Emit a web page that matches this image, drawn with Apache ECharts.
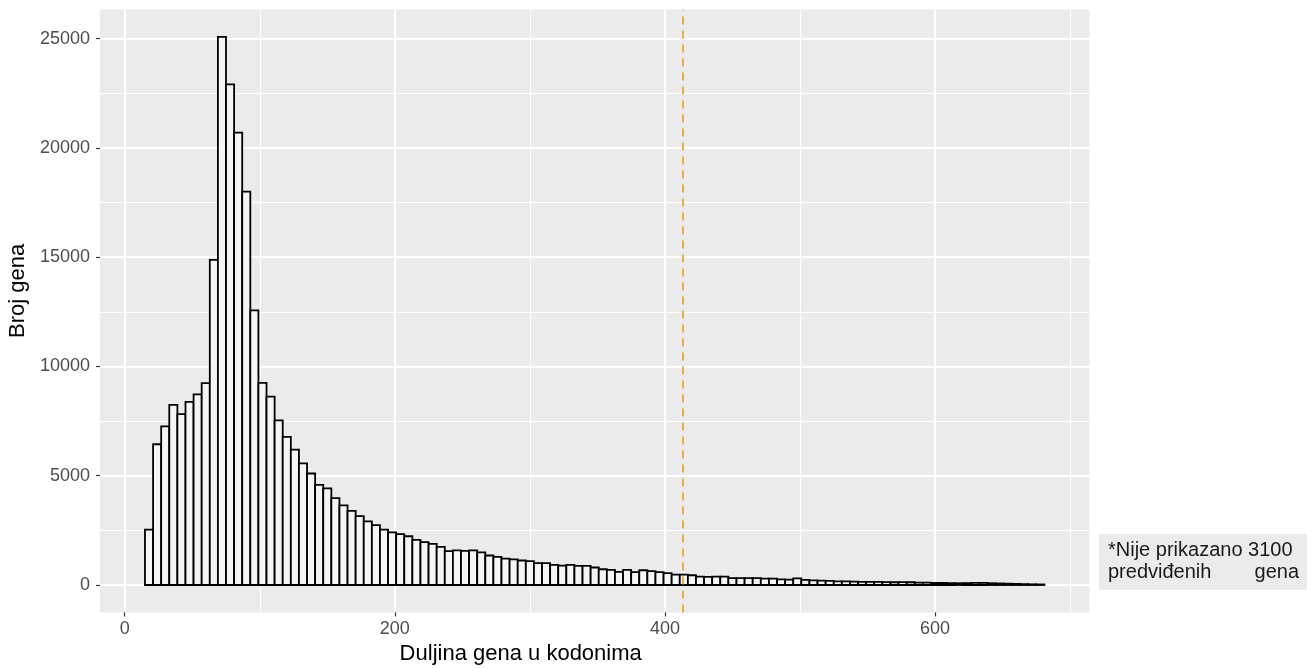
<!DOCTYPE html>
<html><head><meta charset="utf-8">
<script src="https://cdn.jsdelivr.net/npm/echarts@6/dist/echarts.min.js"></script>
<style>html,body{margin:0;padding:0;background:#fff}#c{width:1316px;height:669px}</style>
</head><body><div id="c"></div>
<script>
// Histogram definition (codon lengths)
const binStart = 15;
const binWidth = 6;
const counts = [
  2530, 6440, 7260, 8240, 7820, 8380, 8720, 9240, 14870, 25080,
  22900, 20700, 18000, 12560, 9250, 8620, 7530, 6780, 6190, 5560,
  5100, 4580, 4420, 3970, 3640, 3390, 3150, 2910, 2740, 2530,
  2410, 2330, 2230, 2060, 1960, 1880, 1740, 1550, 1580, 1560,
  1580, 1490, 1350, 1290, 1210, 1170, 1120, 1090, 1000, 1000,
  920, 890, 920, 875, 875, 800, 720, 690, 600, 690,
  585, 675, 630, 585, 540, 475, 475, 445, 385, 370,
  385, 385, 310, 310, 310, 310, 290, 290, 260, 250,
  300, 230, 215, 200, 185, 170, 170, 155, 140, 140,
  140, 135, 125, 135, 125, 110, 105, 90, 90, 85,
  80, 85, 95, 95, 80, 70, 60, 50, 40, 30,
  25
];
const cutoffLength = 413;
const xMajorTicks = [0, 200, 400, 600];
const xMinorTicks = [100, 300, 500, 700];
const yMajorTicks = [0, 5000, 10000, 15000, 20000, 25000];
const yMinorTicks = [2500, 7500, 12500, 17500, 22500];
const xTitle = 'Duljina gena u kodonima';
const yTitle = 'Broj gena';
const noteLine1 = '*Nije prikazano 3100';
const noteLine2a = 'predviđenih';
const noteLine2b = 'gena';

const bins = counts.map((c, i) => [binStart + i * binWidth, binStart + (i + 1) * binWidth, c]);
const xLo = binStart, xHi = binStart + counts.length * binWidth;
const xPad = (xHi - xLo) * 0.05;
const yMaxData = Math.max(...counts);
const yPad = yMaxData * 0.05;

const FONT = '"Liberation Sans", Arial, sans-serif';
const chart = echarts.init(document.getElementById('c'), null, {renderer: 'canvas'});
const gridCol = '#FFFFFF';
const plain = v => String(Math.round(v));

chart.setOption({
  animation: false,
  backgroundColor: '#FFFFFF',
  textStyle: {fontFamily: FONT},
  grid: {left: 100, right: 226.6, top: 9.4, bottom: 56.6, show: true, backgroundColor: '#EBEBEB', borderWidth: 0,
         containLabel: false, outerBoundsMode: 'none'},
  xAxis: [
    {
      type: 'value', min: xLo - xPad, max: xHi + xPad,
      axisLine: {show: false, onZero: false},
      axisTick: {show: true, customValues: xMajorTicks, length: 4, lineStyle: {color: '#333333', width: 1.2}},
      axisLabel: {customValues: xMajorTicks, formatter: plain, color: '#4D4D4D', fontSize: 18, margin: 8, fontFamily: FONT},
      splitLine: {show: true, lineStyle: {color: gridCol, width: 2}},
      name: xTitle, nameLocation: 'middle', nameGap: 29,
      nameTextStyle: {fontSize: 22, color: '#000000', fontFamily: FONT, padding: [0, 148, 0, 0]}
    },
    {
      type: 'value', min: xLo - xPad, max: xHi + xPad, position: 'top',
      axisLine: {show: false, onZero: false},
      axisTick: {show: false, customValues: xMinorTicks},
      axisLabel: {show: false},
      splitLine: {show: true, lineStyle: {color: gridCol, width: 1}}
    }
  ],
  yAxis: [
    {
      type: 'value', min: -yPad, max: yMaxData + yPad,
      axisLine: {show: false, onZero: false},
      axisTick: {show: true, customValues: yMajorTicks, length: 4, lineStyle: {color: '#333333', width: 1.2}},
      axisLabel: {customValues: yMajorTicks, formatter: plain, color: '#4D4D4D', fontSize: 18, margin: 10, fontFamily: FONT},
      splitLine: {show: true, lineStyle: {color: gridCol, width: 2}},
      name: yTitle, nameLocation: 'middle', nameGap: 71, nameRotate: 90,
      nameTextStyle: {fontSize: 22, color: '#000000', fontFamily: FONT, padding: [0, 0, 0, 40]}
    },
    {
      type: 'value', min: -yPad, max: yMaxData + yPad, position: 'right',
      axisLine: {show: false, onZero: false},
      axisTick: {show: false, customValues: yMinorTicks},
      axisLabel: {show: false},
      splitLine: {show: true, lineStyle: {color: gridCol, width: 1}}
    }
  ],
  series: [{
    type: 'custom',
    xAxisIndex: 0, yAxisIndex: 0,
    data: bins,
    encode: {x: [0, 1], y: 2},
    renderItem: function (params, api) {
      const p0 = api.coord([api.value(0), 0]);
      const p1 = api.coord([api.value(1), api.value(2)]);
      return {
        type: 'rect',
        shape: {x: p0[0], y: p1[1], width: p1[0] - p0[0], height: p0[1] - p1[1]},
        style: {fill: '#F5F5F5', stroke: '#000000', lineWidth: 1.8}
      };
    },
    markLine: {
      silent: true, symbol: 'none', label: {show: false},
      lineStyle: {color: '#EBA53A', type: [8, 6], width: 1.8},
      data: [{xAxis: cutoffLength}]
    }
  }],
  graphic: [{
    type: 'group', left: 1099, top: 534,
    children: [
      {type: 'rect', shape: {x: 0, y: 0, width: 208, height: 56}, style: {fill: '#EBEBEB'}},
      {type: 'text', style: {x: 9, y: 16, text: noteLine1, font: '20px ' + FONT, fill: '#1A1A1A', align: 'left', verticalAlign: 'middle'}},
      {type: 'text', style: {x: 9, y: 38, text: noteLine2a, font: '20px ' + FONT, fill: '#1A1A1A', align: 'left', verticalAlign: 'middle'}},
      {type: 'text', style: {x: 200, y: 38, text: noteLine2b, font: '20px ' + FONT, fill: '#1A1A1A', align: 'right', verticalAlign: 'middle'}}
    ]
  }]
});
</script></body></html>
